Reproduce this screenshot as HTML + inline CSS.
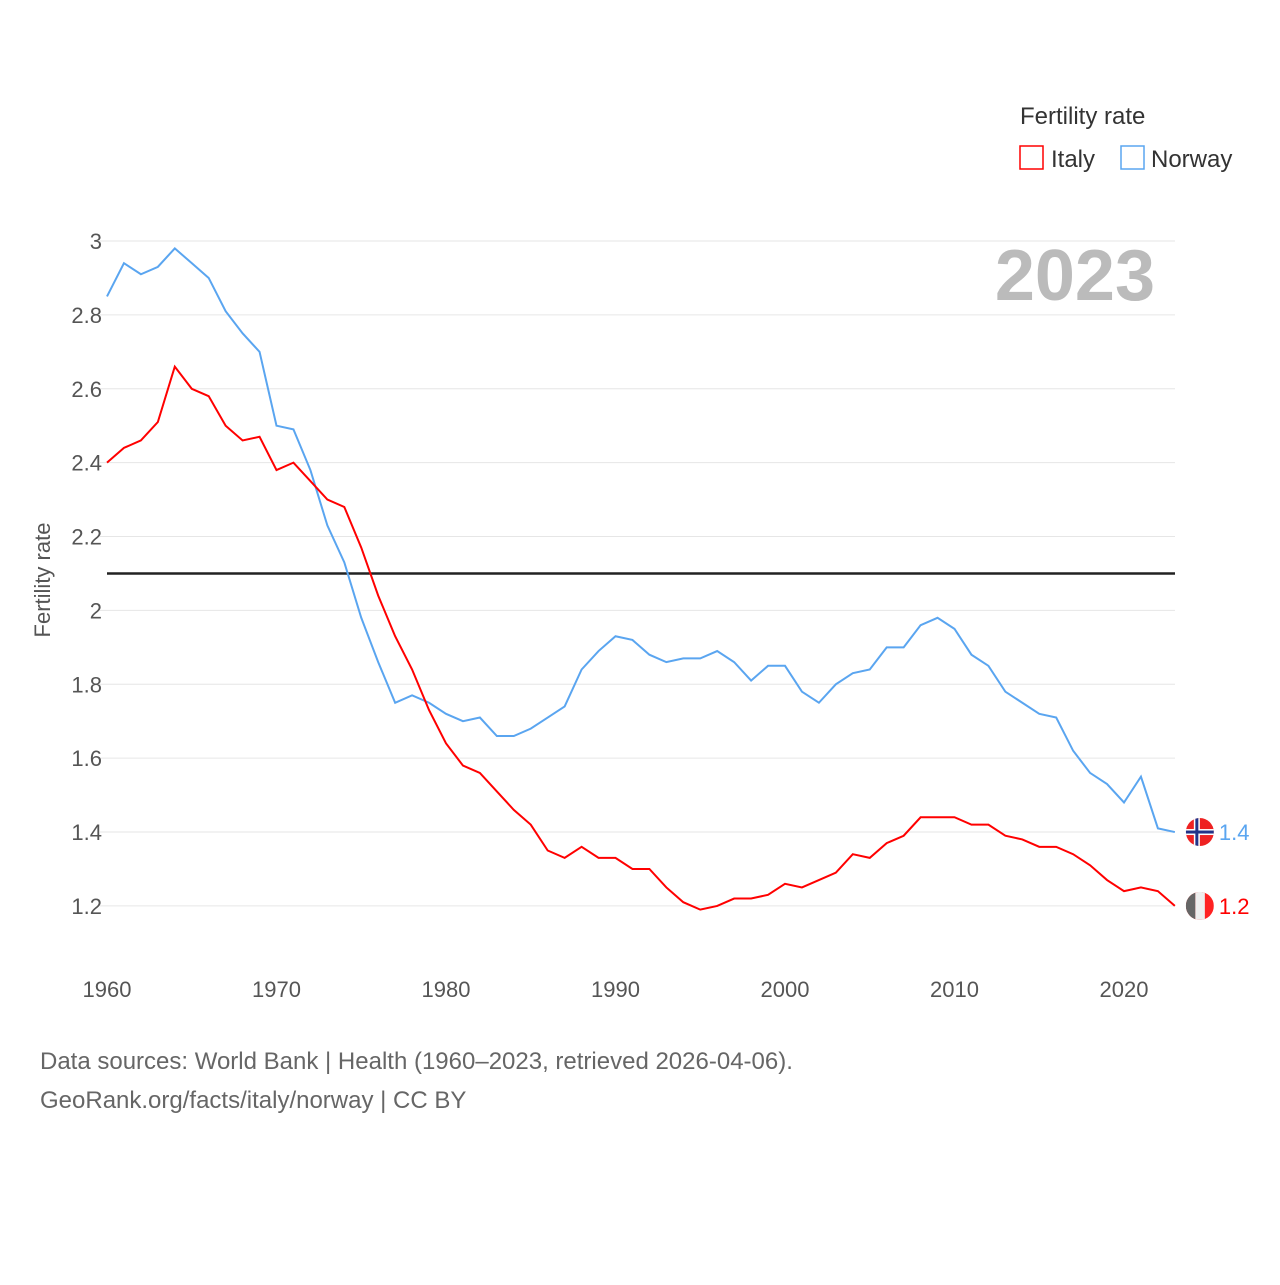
<!DOCTYPE html>
<html><head><meta charset="utf-8"><style>
body{margin:0;background:#fff;font-family:"Liberation Sans",sans-serif;}
</style></head><body>
<svg id="c" width="1280" height="1280" xmlns="http://www.w3.org/2000/svg" font-family="Liberation Sans, sans-serif">
<defs><clipPath id="ci"><circle id="cic" r="14"/></clipPath><clipPath id="cn"><circle id="cnc" r="14"/></clipPath></defs>
<text x="1020" y="124" font-size="24" fill="#333">Fertility rate</text>
<g><rect x="1020" y="146" width="23" height="23" fill="none" stroke="#f00" stroke-width="1.5"/><text x="1051" y="167" font-size="24" fill="#333">Italy</text></g>
<g><rect x="1121" y="146" width="23" height="23" fill="none" stroke="#5aa5f0" stroke-width="1.5"/><text x="1151" y="167" font-size="24" fill="#333">Norway</text></g>
<text x="1155" y="300" font-size="72" font-weight="bold" fill="#bbb" text-anchor="end">2023</text>
<text transform="translate(50,580) rotate(-90)" font-size="22" fill="#555" text-anchor="middle">Fertility rate</text>
<g id="grid"></g><g id="lines"></g>
<text x="40" y="1069" font-size="24" fill="#666">Data sources: World Bank | Health (1960–2023, retrieved 2026-04-06).</text>
<text x="40" y="1108" font-size="24" fill="#666">GeoRank.org/facts/italy/norway | CC BY</text>
</svg>
<script>
const years=[];for(let y=1960;y<=2023;y++)years.push(y);
const italy=[2.40,2.44,2.46,2.51,2.66,2.60,2.58,2.50,2.46,2.47,2.38,2.40,2.35,2.30,2.28,2.17,2.04,1.93,1.84,1.73,1.64,1.58,1.56,1.51,1.46,1.42,1.35,1.33,1.36,1.33,1.33,1.30,1.30,1.25,1.21,1.19,1.20,1.22,1.22,1.23,1.26,1.25,1.27,1.29,1.34,1.33,1.37,1.39,1.44,1.44,1.44,1.42,1.42,1.39,1.38,1.36,1.36,1.34,1.31,1.27,1.24,1.25,1.24,1.20];
const norway=[2.85,2.94,2.91,2.93,2.98,2.94,2.90,2.81,2.75,2.70,2.50,2.49,2.38,2.23,2.13,1.98,1.86,1.75,1.77,1.75,1.72,1.70,1.71,1.66,1.66,1.68,1.71,1.74,1.84,1.89,1.93,1.92,1.88,1.86,1.87,1.87,1.89,1.86,1.81,1.85,1.85,1.78,1.75,1.80,1.83,1.84,1.90,1.90,1.96,1.98,1.95,1.88,1.85,1.78,1.75,1.72,1.71,1.62,1.56,1.53,1.48,1.55,1.41,1.40];
const yTicks=[1.2,1.4,1.6,1.8,2,2.2,2.4,2.6,2.8,3];
const xTicks=[1960,1970,1980,1990,2000,2010,2020];
const replacement=[2.1];
const X=y=>107+(y-1960)*16.95, Y=v=>241+(3-v)*369.4;
const NS="http://www.w3.org/2000/svg";
function mk(t,a,p){const e=document.createElementNS(NS,t);for(const k in a)e.setAttribute(k,a[k]);p.appendChild(e);return e;}
const g=document.getElementById('grid'),L=document.getElementById('lines');
yTicks.forEach(v=>{const l=mk('line',{x1:100,x2:1175,y1:Y(v),y2:Y(v),stroke:'#e6e6e6'},g);


const t=mk('text',{x:102,y:Y(v)+8,'font-size':22,fill:'#555','text-anchor':'end'},g);t.textContent=String(v);

});
xTicks.forEach(v=>{const t=mk('text',{x:X(v),y:997,'font-size':22,fill:'#555','text-anchor':'middle'},g);t.textContent=v;

});
replacement.forEach(v=>{const l=mk('line',{x1:107,x2:1175,y1:Y(v),y2:Y(v),stroke:'#222','stroke-width':2.5},L);

});
function series(d,c,name){const p=mk('polyline',{points:d.map((v,i)=>X(years[i])+','+Y(v)).join(' '),fill:'none',stroke:c,'stroke-width':2},L);


const last=d[d.length-1],lx=X(years[years.length-1])+25,ly=Y(last);
const cid=name=='italy'?'ci':'cn';
const cc=document.getElementById(cid+'c');cc.setAttribute('cx',lx);cc.setAttribute('cy',ly);
const fg=mk('g',{'clip-path':'url(#'+cid+')'},L);


if(name=='italy'){mk('rect',{x:lx-14,y:ly-14,width:28,height:28,fill:'#f22'},fg);mk('rect',{x:lx-14,y:ly-14,width:9.5,height:28,fill:'#666'},fg);mk('rect',{x:lx-4.5,y:ly-14,width:9.5,height:28,fill:'#eee'},fg);}
else{mk('rect',{x:lx-14,y:ly-14,width:28,height:28,fill:'#e22'},fg);mk('rect',{x:lx-14,y:ly-3,width:28,height:6,fill:'#fff'},fg);mk('rect',{x:lx-6,y:ly-14,width:6,height:28,fill:'#fff'},fg);mk('rect',{x:lx-14,y:ly-1.5,width:28,height:3,fill:'#238'},fg);mk('rect',{x:lx-4.5,y:ly-14,width:3,height:28,fill:'#238'},fg);}
const t=mk('text',{x:lx+19,y:ly+8,'font-size':22,fill:c},L);t.textContent=last.toFixed(1);

}
series(norway,'#5aa5f0','norway');series(italy,'#f00','italy');
</script>
</body></html>
